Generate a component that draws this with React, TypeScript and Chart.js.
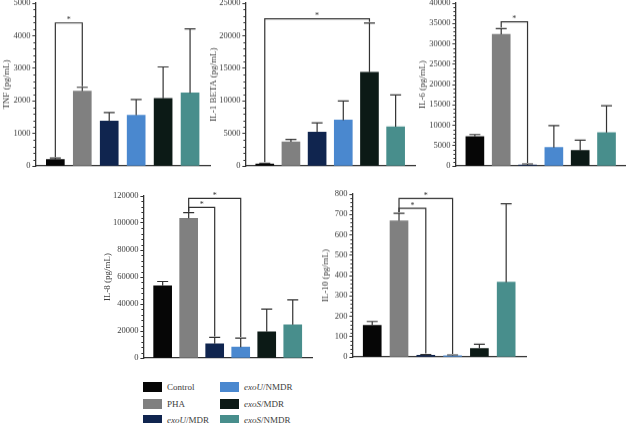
import React, { useEffect, useRef } from "react";
import { Chart, registerables } from "chart.js";

Chart.register(...registerables);

// Treatment groups and their bar colours
const GROUPS = ["Control", "PHA", "exoU/MDR", "exoU/NMDR", "exoS/MDR", "exoS/NMDR"];
const GROUP_COLORS = ["#060606", "#808080", "#10254f", "#4a88cf", "#0c1a16", "#488e8c"];

// Cytokine concentrations (pg/mL): mean and standard deviation per group
const TNF_MEAN = [195, 2300, 1375, 1560, 2075, 2240];
const TNF_SD = [45, 115, 265, 480, 965, 1970];

const IL1B_MEAN = [310, 3700, 5190, 7040, 14390, 6010];
const IL1B_SD = [110, 360, 1440, 2930, 7550, 4880];

const IL6_MEAN = [7220, 32350, 250, 4520, 3780, 8210];
const IL6_SD = [500, 1400, 240, 5410, 2540, 6570];

const IL8_MEAN = [53450, 103450, 10500, 8000, 19460, 24630];
const IL8_SD = [3200, 4180, 4770, 6780, 16740, 18470];

const IL10_MEAN = [155, 669, 8, 6, 42, 367];
const IL10_SD = [19, 37, 4, 4, 20, 385];

// Significance brackets: group index pairs and the level of the bar
const TNF_SIG = [{ from: 0, to: 1, level: 4390 }];
const IL1B_SIG = [{ from: 0, to: 4, level: 22600 }];
const IL6_SIG = [{ from: 1, to: 2, level: 35390 }];
const IL8_SIG = [
  { from: 1, to: 2, level: 111600 },
  { from: 1, to: 3, level: 118200 },
];
const IL10_SIG = [
  { from: 1, to: 2, level: 730 },
  { from: 1, to: 3, level: 778 },
];

// Axis ranges
const TNF_AXIS = { max: 5000, step: 1000 };
const IL1B_AXIS = { max: 25000, step: 5000 };
const IL6_AXIS = { max: 40000, step: 5000 };
const IL8_AXIS = { max: 120000, step: 20000 };
const IL10_AXIS = { max: 800, step: 100 };

const FONT = "'Liberation Serif', 'Times New Roman', serif";
const INK = "#333333";
const TEXT = "#3c3c3c";

type Panel = {
  title: string;
  mean: number[];
  sd: number[];
  sig: { from: number; to: number; level: number }[];
  axis: { max: number; step: number };
  // placement of the plot frame on the page
  axisX: number;
  titleX: number;
  top: number;
  bottom: number;
  right: number;
};

const PANELS: Panel[] = [
  { title: "TNF (pg/mL)", mean: TNF_MEAN, sd: TNF_SD, sig: TNF_SIG, axis: TNF_AXIS, axisX: 35, titleX: 6, top: 3.3, bottom: 165.7, right: 210 },
  { title: "IL-1 BETA (pg/mL)", mean: IL1B_MEAN, sd: IL1B_SD, sig: IL1B_SIG, axis: IL1B_AXIS, axisX: 245, titleX: 213, top: 3.3, bottom: 165.7, right: 415 },
  { title: "IL-6 (pg/mL)", mean: IL6_MEAN, sd: IL6_SD, sig: IL6_SIG, axis: IL6_AXIS, axisX: 455, titleX: 422, top: 3.3, bottom: 165.7, right: 626 },
  { title: "IL-8 (pg/mL)", mean: IL8_MEAN, sd: IL8_SD, sig: IL8_SIG, axis: IL8_AXIS, axisX: 143, titleX: 107, top: 196, bottom: 358.3, right: 312 },
  { title: "IL-10 (pg/mL)", mean: IL10_MEAN, sd: IL10_SD, sig: IL10_SIG, axis: IL10_AXIS, axisX: 352, titleX: 325, top: 194.3, bottom: 356.7, right: 526 },
];

const PAD_T = 12;
const PAD_B = 12;
const PAD_R = 2;
const TITLE_SIZE = 9;
const TICK_SIZE = 8.5;

// Upper error bars, minor y ticks and significance brackets
const decorations = {
  id: "decorations",
  afterDatasetsDraw(chart: any, _args: any, opts: any) {
    const { ctx } = chart;
    const xs = chart.scales.x;
    const ys = chart.scales.y;
    const meta = chart.getDatasetMeta(0);
    const mean: number[] = opts.mean;
    const sd: number[] = opts.sd;
    ctx.save();
    ctx.strokeStyle = INK;
    ctx.lineWidth = 1.2;
    ctx.lineCap = "butt";

    // error bars (mean + SD)
    meta.data.forEach((bar: any, i: number) => {
      const yTop = ys.getPixelForValue(mean[i] + sd[i]);
      ctx.beginPath();
      ctx.moveTo(bar.x, bar.y);
      ctx.lineTo(bar.x, yTop);
      ctx.moveTo(bar.x - 5.5, yTop);
      ctx.lineTo(bar.x + 5.5, yTop);
      ctx.stroke();
    });

    // minor ticks between the labelled ones
    const left = chart.chartArea.left;
    const minor = opts.step / 5;
    ctx.lineWidth = 1;
    ctx.beginPath();
    for (let v = 0; v <= opts.max + 1e-9; v += minor) {
      if (Math.abs(v / opts.step - Math.round(v / opts.step)) < 1e-6) continue;
      const y = Math.round(ys.getPixelForValue(v)) + 0.5;
      ctx.moveTo(left - 2, y);
      ctx.lineTo(left, y);
    }
    ctx.stroke();

    // significance brackets
    ctx.lineWidth = 1.2;
    ctx.fillStyle = INK;
    ctx.font = `8px ${FONT}`;
    ctx.textAlign = "center";
    ctx.textBaseline = "alphabetic";
    opts.sig.forEach((s: any) => {
      const x1 = xs.getPixelForValue(s.from);
      const x2 = xs.getPixelForValue(s.to);
      const yb = ys.getPixelForValue(s.level);
      const y1 = ys.getPixelForValue(mean[s.from] + sd[s.from]) - 1;
      const y2 = ys.getPixelForValue(mean[s.to] + sd[s.to]) - 1;
      ctx.beginPath();
      ctx.moveTo(x1, y1);
      ctx.lineTo(x1, yb);
      ctx.lineTo(x2, yb);
      ctx.lineTo(x2, y2);
      ctx.stroke();
      ctx.fillText("*", (x1 + x2) / 2, yb - 0.5);
    });
    ctx.restore();
  },
};

function CytokinePanel({ p }: { p: Panel }) {
  const ref = useRef<HTMLCanvasElement | null>(null);
  const titleLine = TITLE_SIZE * 1.2;
  const yWidth = p.axisX - (p.titleX - titleLine / 2);
  const left = p.axisX - yWidth;
  const width = yWidth + (p.right - p.axisX) + PAD_R;
  const height = p.bottom - p.top + PAD_T + PAD_B;
  const topPos = p.top - PAD_T;

  useEffect(() => {
    if (!ref.current) return;
    const chart = new Chart(ref.current, {
      type: "bar",
      data: {
        datasets: [
          {
            data: p.mean.map((v, i) => ({ x: i, y: v })) as any,
            backgroundColor: GROUP_COLORS,
            borderWidth: 0,
            barThickness: 18,
          },
        ],
      },
      plugins: [decorations],
      options: {
        animation: false,
        responsive: false,
        maintainAspectRatio: false,
        devicePixelRatio: 1,
        layout: { padding: { top: PAD_T, bottom: PAD_B, left: 0, right: PAD_R } },
        plugins: {
          legend: { display: false },
          tooltip: { enabled: false },
          decorations: { mean: p.mean, sd: p.sd, sig: p.sig, max: p.axis.max, step: p.axis.step },
        } as any,
        scales: {
          x: {
            type: "linear",
            min: -0.74,
            max: 5.74,
            offset: false,
            z: 1,
            grid: { display: false, drawTicks: false, offset: false },
            ticks: { display: false },
            border: { display: true, color: INK, width: 1.3 },
          },
          y: {
            min: 0,
            max: p.axis.max,
            z: 1,
            ticks: {
              stepSize: p.axis.step,
              padding: 2,
              color: TEXT,
              font: { family: FONT, size: TICK_SIZE },
              callback: (v: any) => String(v),
            },
            grid: { drawOnChartArea: false, drawTicks: true, tickLength: 3, color: INK, lineWidth: 1 },
            border: { display: true, color: INK, width: 1.3 },
            title: {
              display: true,
              text: p.title,
              color: TEXT,
              padding: 0,
              font: { family: FONT, size: TITLE_SIZE },
            },
            afterFit: (scale: any) => {
              scale.width = yWidth;
            },
          },
        },
      } as any,
    });
    return () => chart.destroy();
  }, []);

  return (
    <canvas
      ref={ref}
      width={width}
      height={height}
      style={{ position: "absolute", left, top: topPos, width, height }}
    />
  );
}

function LegendLabel({ name }: { name: string }) {
  const slash = name.indexOf("/");
  if (name.startsWith("exo") && slash > 0) {
    return (
      <span>
        <i>{name.slice(0, slash)}</i>
        {name.slice(slash)}
      </span>
    );
  }
  return <span>{name}</span>;
}

const LEGEND_COL_X = [143, 220];
const LEGEND_ROW_Y = [387, 403.5, 420];

function Legend() {
  return (
    <>
      {GROUPS.map((g, i) => {
        const col = Math.floor(i / 3);
        const row = i % 3;
        return (
          <div
            key={g}
            style={{
              position: "absolute",
              left: LEGEND_COL_X[col],
              top: LEGEND_ROW_Y[row] - 5,
              height: 10,
              display: "flex",
              alignItems: "center",
              whiteSpace: "nowrap",
              fontFamily: FONT,
              fontSize: 9,
              lineHeight: "10px",
              color: TEXT,
            }}
          >
            <span style={{ display: "inline-block", width: 19, height: 10, background: GROUP_COLORS[i], marginRight: 5 }} />
            <LegendLabel name={g} />
          </div>
        );
      })}
    </>
  );
}

export default function App() {
  return (
    <div
      style={{
        position: "fixed",
        left: 0,
        top: 0,
        width: 626,
        height: 423,
        overflow: "hidden",
        background: "#ffffff",
      }}
    >
      {PANELS.map((p) => (
        <CytokinePanel key={p.title} p={p} />
      ))}
      <Legend />
    </div>
  );
}
